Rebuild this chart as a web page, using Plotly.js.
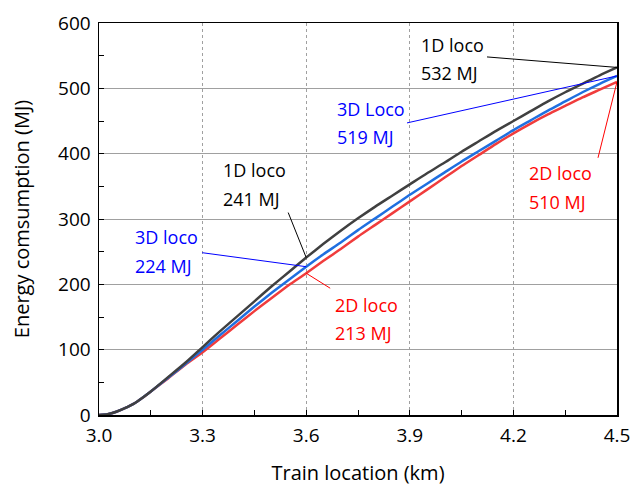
<!DOCTYPE html>
<html>
<head>
<meta charset="utf-8">
<script src="https://cdn.plot.ly/plotly-3.0.1.min.js"></script>
<style>html,body{margin:0;padding:0;background:#fff;}#chart{width:633px;height:489px;}</style>
</head>
<body>
<div id="chart"></div>
<script>
// Train location (km)
const location_km = [3.00, 3.025, 3.05, 3.075, 3.10, 3.125, 3.15, 3.20, 3.25, 3.30, 3.35, 3.40, 3.45, 3.50, 3.55, 3.60, 3.65, 3.70, 3.75, 3.80, 3.85, 3.90, 3.95, 4.00, 4.05, 4.10, 4.15, 4.20, 4.25, 4.30, 4.35, 4.40, 4.45, 4.50];
// Energy consumption (MJ)
const loco1D = [0, 1.3, 5, 10.5, 17, 26, 36, 58, 80, 104, 128, 151, 174, 197, 219, 241, 262, 282, 301, 319, 336, 353, 370, 386, 403, 419, 435, 450, 465, 480, 494, 507, 520, 532];
const loco3D = [0, 1.3, 5, 10.5, 17, 26, 36, 57, 78, 100, 122, 144, 166, 187, 207, 227, 246, 264, 283, 301, 319, 337, 354, 371, 388, 404, 420, 436, 451, 466, 480, 494, 507, 519];
const loco2D = [0, 1.3, 5, 10.5, 17, 26, 36, 56, 77, 96, 117, 138, 159, 179, 199, 217, 236, 254, 273, 291, 309, 327, 345, 363, 381, 398, 415, 431, 446, 460, 473, 486, 498, 510];
const xTicks = [3.0, 3.3, 3.6, 3.9, 4.2, 4.5];
const xTickText = ["3.0", "3.3", "3.6", "3.9", "4.2", "4.5"];
const yTicks = [0, 100, 200, 300, 400, 500, 600];

const FONT = "Open Sans, Noto Sans, sans-serif";
const iMid = location_km.indexOf(3.6);
const iEnd = location_km.length - 1;

const traces = [
  {x: location_km, y: loco2D, mode: "lines", line: {color: "#f03c3c", width: 2.5, shape: "spline", smoothing: 0.6}, name: "2D loco"},
  {x: location_km, y: loco3D, mode: "lines", line: {color: "#1f6fe0", width: 2.5, shape: "spline", smoothing: 0.6}, name: "3D loco"},
  {x: location_km, y: loco1D, mode: "lines", line: {color: "#404040", width: 2.5, shape: "spline", smoothing: 0.6}, name: "1D loco"}
];

function conn(xv, yv, dx, dy, color) {
  return {type: "line", xref: "x", yref: "y", xsizemode: "pixel", ysizemode: "pixel",
    xanchor: xv, yanchor: yv, x0: 0, y0: 0, x1: dx, y1: dy, line: {color: color, width: 1}};
}
const shapes = [
  conn(location_km[iEnd], loco1D[iEnd], -130, 10.5, "#000000"),
  conn(location_km[iEnd], loco3D[iEnd], -210, -47, "#0000ff"),
  conn(location_km[iEnd], loco2D[iEnd], -19, -76, "#ff0000"),
  conn(location_km[iMid], loco1D[iMid], -18, 45, "#000000"),
  conn(location_km[iMid], loco3D[iMid], -104, 14, "#0000ff"),
  conn(location_km[iMid], loco2D[iMid], 24, -15, "#ff0000")
];

// plot area in pixels: left 99, right 617, top 23, bottom 415
function lab(text, px, py, color) {
  return {text: text, xref: "paper", yref: "paper", x: (px - 99) / 518, y: (415 - py) / 392,
    xanchor: "left", yanchor: "middle", showarrow: false, font: {family: FONT, size: 18, color: color}};
}
const annotations = [
  lab("1D loco", 419, 45, "#000000"), lab("532 MJ", 419, 73, "#000000"),
  lab("3D Loco", 335, 109, "#0000ff"), lab("519 MJ", 335, 137, "#0000ff"),
  lab("1D loco", 221, 170, "#000000"), lab("241 MJ", 221, 199, "#000000"),
  lab("3D loco", 133, 237, "#0000ff"), lab("224 MJ", 133, 266, "#0000ff"),
  lab("2D loco", 333, 305, "#ff0000"), lab("213 MJ", 333, 333, "#ff0000"),
  lab("2D loco", 527, 173, "#ff0000"), lab("510 MJ", 527, 202, "#ff0000")
];

const layout = {
  width: 633, height: 489,
  margin: {l: 99, r: 16, t: 23, b: 74, pad: 0},
  paper_bgcolor: "#ffffff", plot_bgcolor: "#ffffff",
  showlegend: false,
  font: {family: FONT, size: 19, color: "#000000"},
  xaxis: {
    range: [3.0, 4.5], tickvals: xTicks, ticktext: xTickText,
    ticks: "inside", ticklen: 5, tickcolor: "#000", tickwidth: 1,
    minor: {dtick: 0.15, tick0: 3.0, ticks: "inside", ticklen: 5, tickcolor: "#000", showgrid: false},
    showgrid: true, gridcolor: "#a0a0a0", gridwidth: 1, griddash: "dot",
    showline: true, linecolor: "#000", linewidth: 1.5, mirror: true, zeroline: false,
    ticklabelstandoff: 3,
    tickfont: {family: FONT, size: 19, color: "#000"},
    title: {text: "Train location (km)", font: {family: FONT, size: 20, color: "#000"}, standoff: 18}
  },
  yaxis: {
    range: [0, 600], tickvals: yTicks,
    ticks: "inside", ticklen: 5, tickcolor: "#000", tickwidth: 1,
    minor: {dtick: 50, tick0: 0, ticks: "inside", ticklen: 5, tickcolor: "#000", showgrid: false},
    showgrid: true, gridcolor: "#a0a0a0", gridwidth: 1,
    showline: true, linecolor: "#000", linewidth: 1.5, mirror: true, zeroline: false,
    ticklabelstandoff: 3,
    tickfont: {family: FONT, size: 19, color: "#000"},
    title: {text: "Energy comsumption (MJ)", font: {family: FONT, size: 20, color: "#000"}, standoff: 23}
  },
  shapes: shapes,
  annotations: annotations
};

Plotly.newPlot("chart", traces, layout, {displayModeBar: false, staticPlot: true});
</script>
</body>
</html>
